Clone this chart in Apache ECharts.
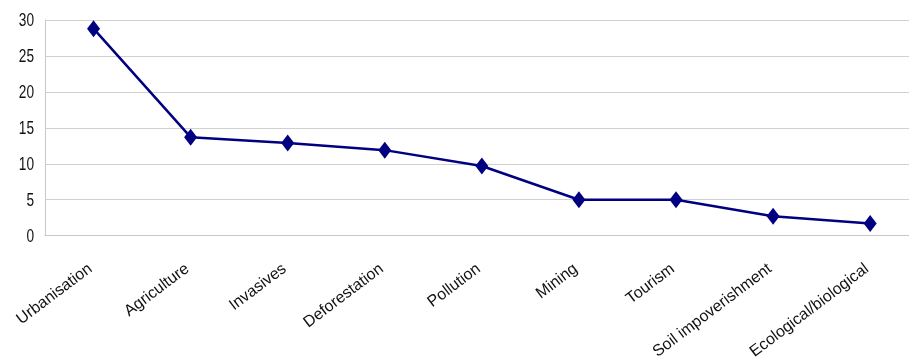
<!DOCTYPE html>
<html><head><meta charset="utf-8">
<script src="https://cdn.jsdelivr.net/npm/echarts@6/dist/echarts.min.js"></script>
<style>html,body{margin:0;padding:0;background:#fff}#c{width:909px;height:362px}</style>
</head><body><div id="c"></div>
<script>
var categories = ['Urbanisation','Agriculture','Invasives','Deforestation','Pollution','Mining','Tourism','Soil impoverishment','Ecological/biological'];
var values = [28.8, 13.7, 12.9, 11.9, 9.7, 5.0, 5.0, 2.7, 1.7];
var yTicks = [0, 5, 10, 15, 20, 25, 30];

var idx = categories.map(function (c, i) { return i; });
var seriesData = values.map(function (v, i) { return [i, v]; });

var chart = echarts.init(document.getElementById('c'));
chart.setOption({
  animation: false,
  grid: { left: 45, right: 0, top: 20, bottom: 125 },
  xAxis: {
    type: 'value', min: -0.5, max: 8.4,
    splitLine: { show: false },
    axisLine: { show: true, onZero: false, lineStyle: { color: '#c8c8c8', width: 1 } },
    axisTick: { show: false },
    axisLabel: { customValues: idx, formatter: function (v) { return categories[Math.round(v)]; },
      rotate: 37, margin: 29, color: '#111', fontFamily: 'Liberation Sans', fontSize: 16,
      padding: [0, 4, 0, 0],
      textShadowColor: 'rgba(0,0,0,0.45)', textShadowOffsetX: 1.5, textShadowOffsetY: -1, textShadowBlur: 0 }
  },
  yAxis: {
    type: 'value', min: yTicks[0], max: yTicks[yTicks.length-1], interval: 5,
    axisLine: { show: true, onZero: false, lineStyle: { color: '#c8c8c8', width: 1 } },
    axisTick: { show: false },
    splitLine: { lineStyle: { color: '#d0d0d0', width: 1 } },
    axisLabel: { show: false }
  },
  series: [{
    type: 'line', data: seriesData,
    symbol: 'diamond', symbolSize: [13, 17],
    lineStyle: { color: '#000080', width: 2.5 },
    itemStyle: { color: '#000080' }
  }]
});
// narrow y-axis tick labels positioned through the value axis scale
var g = yTicks.map(function (t) {
  var py = chart.convertToPixel({ yAxisIndex: 0 }, t);
  return { type: 'text', x: 34, y: py + 1, scaleX: 0.76, silent: true,
    style: { text: String(t), fill: '#111', font: '18px "Liberation Sans"', align: 'right', verticalAlign: 'middle' } };
});
chart.setOption({ graphic: g });
</script></body></html>
